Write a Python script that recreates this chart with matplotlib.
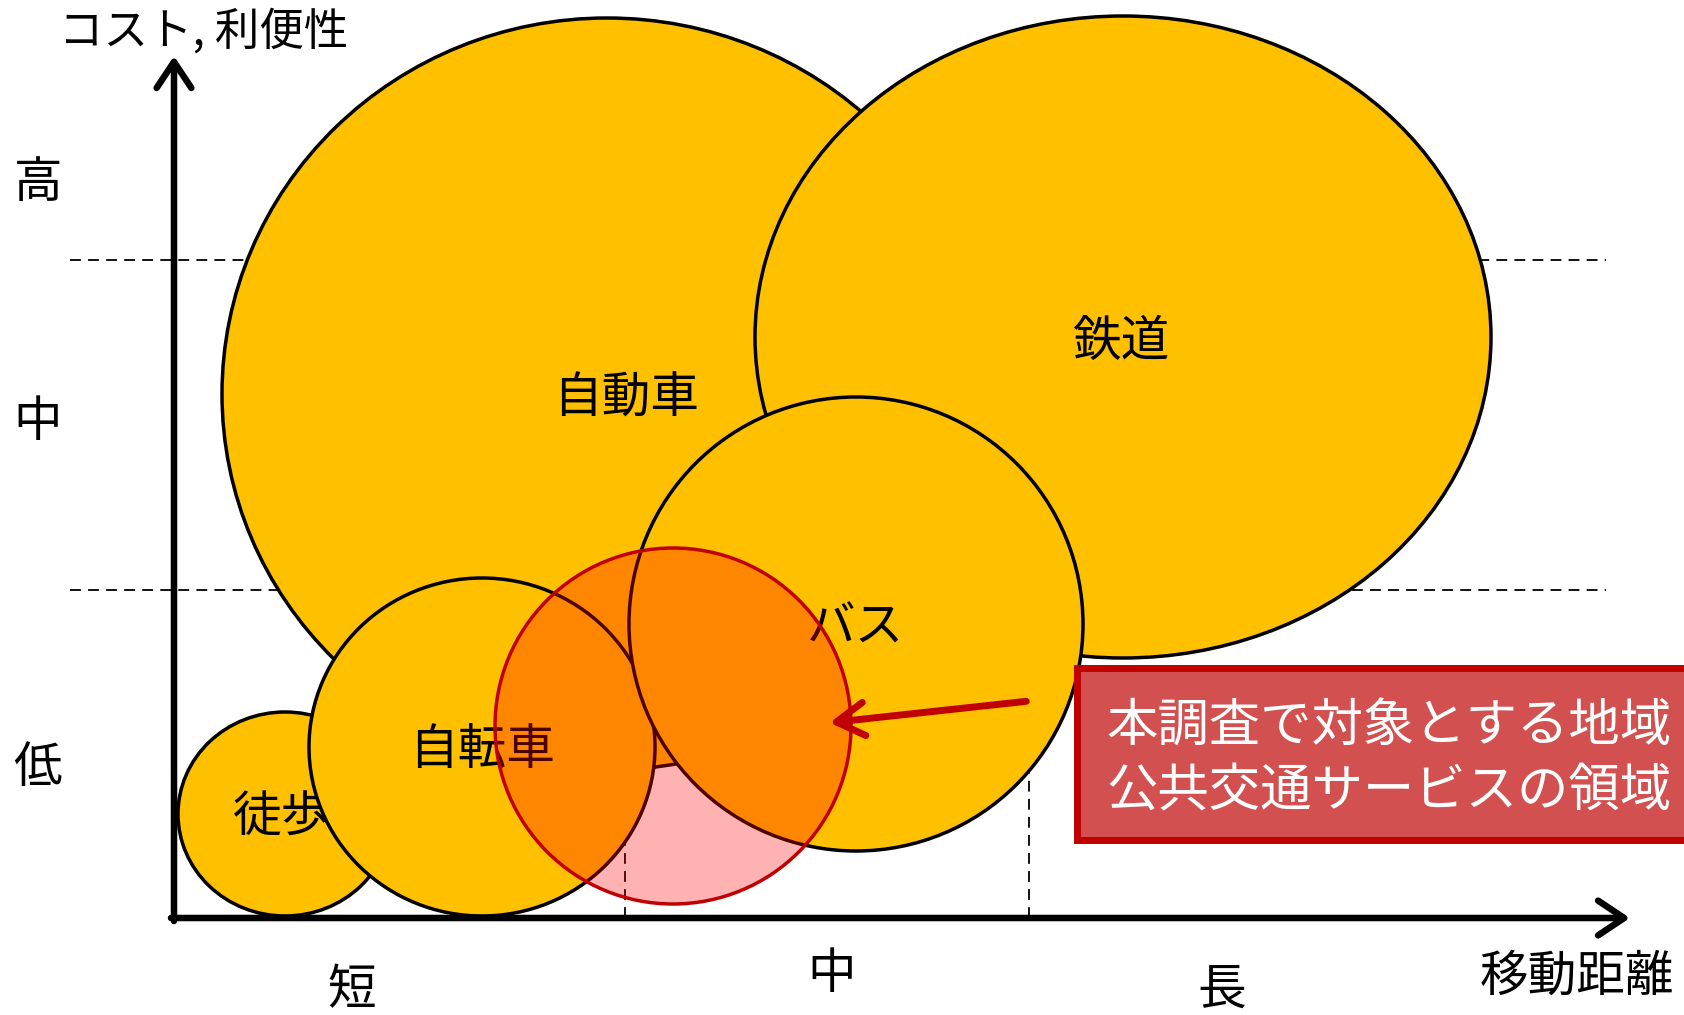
import matplotlib
matplotlib.use('Agg')
import matplotlib.pyplot as plt
from matplotlib.patches import Ellipse, Rectangle, FancyArrowPatch

plt.rcParams['font.family'] = ['Noto Sans CJK JP', 'DejaVu Sans']

# transport modes: centre (distance, cost) and half extents
modes = ['自動車', '鉄道', '徒歩', '自転車', 'バス']
mode_x = [4.33, 9.49, 1.11, 3.08, 6.82]
mode_y = [5.24, 5.81, 1.04, 1.71, 2.94]
mode_rx = [3.85, 3.68, 1.07, 1.73, 2.27]
mode_ry = [3.76, 3.21, 1.02, 1.69, 2.27]
label_dx = [0.19, -0.01, -0.03, 0.0, 0.0]
label_dy = [-0.05, -0.05, -0.04, -0.03, -0.04]

# target area of the survey
target_x, target_y, target_r = 4.99, 1.92, 1.78

level_lines = [6.58, 3.28]
y_labels = ['高', '中', '低']
y_label_pos = [7.35, 4.96, 1.50]
x_labels = ['短', '中', '長']
x_label_pos = [1.78, 6.58, 10.48]
x_label_y = [-0.72, -0.56, -0.72]
dist_lines = [4.51, 8.55]

fig = plt.figure(figsize=(16.84, 10.15), dpi=100)
ax = fig.add_axes([0, 0, 1, 1])
ax.set_xlim(-1.74, 15.10)
ax.set_ylim(-0.97, 9.18)
ax.axis('off')

for y in level_lines:
    ax.plot([-1.04, 14.32], [y, y], ls=(0, (6, 4)), color='black', lw=1.3, zorder=1)
for x in dist_lines:
    ax.plot([x, x], [0, level_lines[1]], ls=(0, (6, 4)), color='black', lw=1.3, zorder=1)

for i, name in enumerate(modes):
    e = Ellipse((mode_x[i], mode_y[i]), 2 * mode_rx[i], 2 * mode_ry[i],
                facecolor='#FFC000', edgecolor='black', lw=2.5, zorder=2 + i)
    ax.add_patch(e)
    ax.text(mode_x[i] + label_dx[i], mode_y[i] + label_dy[i], name, fontsize=35,
            ha='center', va='center', zorder=2 + i, clip_on=True)

ax.add_patch(Ellipse((target_x, target_y), 2 * target_r, 2 * target_r,
                     facecolor=(1, 0, 0, 0.3), edgecolor='none', zorder=10))
ax.add_patch(Ellipse((target_x, target_y), 2 * target_r, 2 * target_r,
                     facecolor='none', edgecolor='#C00000', lw=2.5, zorder=11))

# axes arrows
axis_arrow = dict(arrowstyle='->,head_length=0.75,head_width=0.5', lw=4.7,
                  color='black', mutation_scale=25, capstyle='round',
                  joinstyle='round', shrinkA=0, shrinkB=0)
ax.annotate('', xy=(0, 8.62), xytext=(0, -0.03), arrowprops=axis_arrow, zorder=12)
ax.annotate('', xy=(14.56, 0), xytext=(-0.03, 0), arrowprops=axis_arrow, zorder=12)

ax.text(0.30, 8.86, 'コスト, 利便性', fontsize=32, ha='center', va='center')
for lab, y in zip(y_labels, y_label_pos):
    ax.text(-1.36, y, lab, fontsize=35, ha='center', va='center')
for lab, x, y in zip(x_labels, x_label_pos, x_label_y):
    ax.text(x, y, lab, fontsize=35, ha='center', va='center')
ax.text(14.03, -0.59, '移動距離', fontsize=35, ha='center', va='center')

# pointer arrow
ax.add_patch(FancyArrowPatch((8.55, 2.17), (6.53, 1.95),
                             arrowstyle='->,head_length=0.5,head_width=0.3',
                             mutation_scale=40, lw=5, color='#C00000',
                             capstyle='round', joinstyle='round', zorder=13))

ax.add_patch(Rectangle((9.03, 0.78), 6.6, 1.72, facecolor='#D35050',
                       edgecolor='#C00000', lw=5, zorder=14))
ax.text(9.32, 1.91, '本調査で対象とする地域', fontsize=37, color='white',
        ha='left', va='center', zorder=15)
ax.text(9.32, 1.26, '公共交通サービスの領域', fontsize=37, color='white',
        ha='left', va='center', zorder=15)

fig.savefig('out.png', dpi=100)
